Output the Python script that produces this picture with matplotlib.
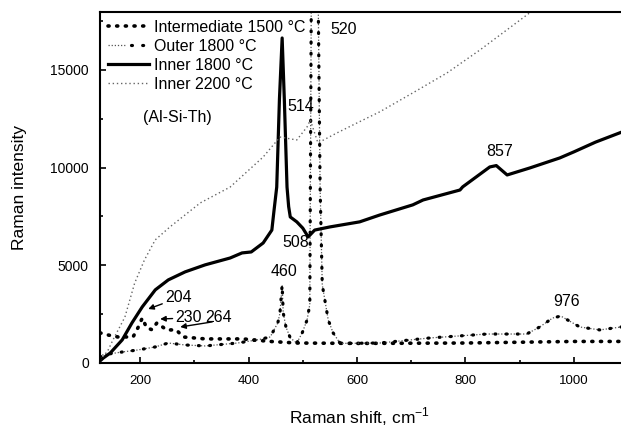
import matplotlib
matplotlib.use("Agg")
import matplotlib.pyplot as plt
from matplotlib.ticker import MultipleLocator
from matplotlib.legend_handler import HandlerTuple

plt.rcParams['font.family'] = ['Liberation Sans', 'DejaVu Sans']

# Inner 2200 C (Al-Si-Th)
x_in2200 = [126, 140, 150, 172, 190, 208, 228, 255, 311, 366, 427, 458, 489, 508, 514,
            528, 563, 600, 642, 703, 766, 827, 913, 960]
y_in2200 = [150, 600, 1180, 2350, 4090, 5270, 6300, 6960, 8190, 9000, 10540, 11560, 11410,
            12080, 12430, 11260, 11770, 12280, 12850, 13820, 14840, 16020, 17800, 18800]

# Inner 1800 C
x_in1800 = [126, 132, 145, 167, 185, 204, 228, 252, 283, 320, 366, 388, 405, 427, 443, 447,
            452, 457, 462, 466, 471, 474, 477, 489, 500, 510, 522, 550, 605, 642, 703, 722,
            790, 795, 845, 857, 877, 919, 974, 1000, 1040, 1087]
y_in1800 = [100, 250, 510, 1180, 2050, 2870, 3740, 4250, 4660, 5020, 5370, 5630, 5680, 6140,
            6800, 7800, 9000, 13500, 16630, 13500, 9000, 8000, 7470, 7220, 6900, 6450, 6800,
            6960, 7220, 7570, 8090, 8340, 8850, 9010, 10030, 10100, 9620, 9980, 10490, 10800,
            11300, 11800]

# Intermediate 1500 C
x_int1500 = [126, 141, 159, 187, 196, 204, 212, 222, 231, 249, 267, 279, 320, 390, 440, 489,
             600, 800, 1000, 1087]
y_int1500 = [1540, 1430, 1330, 1330, 1800, 2300, 1800, 1700, 2050, 1690, 1690, 1330, 1230,
             1230, 1100, 1020, 1000, 1020, 1100, 1100]

# Outer 1800 C
x_out1800 = [126, 130, 167, 196, 228, 252, 283, 320, 380, 420, 440, 454, 458, 462, 464, 469,
             477, 489, 499, 508, 513, 516, 522, 528, 532, 536, 547, 556, 569, 642, 735, 840,
             913, 937, 961, 976, 1011, 1048, 1087]
y_out1800 = [300, 410, 560, 665, 820, 1020, 920, 870, 1020, 1200, 1330, 2050, 2560, 4000,
             2560, 1840, 1280, 1020, 1540, 2200, 3000, 20000, 40000, 20000, 9000, 4000, 2200,
             1540, 1000, 1020, 1280, 1480, 1480, 1840, 2300, 2400, 1840, 1690, 1840]

peak_labels = ['520', '514', '508', '460', '857', '976']
peak_x = [576, 497, 487, 466, 864, 987]
peak_y = [17040, 13100, 6140, 4660, 10800, 3120]

fig = plt.figure(figsize=(6.21, 4.28), dpi=100)
ax = fig.add_axes([0.161, 0.152, 0.839, 0.82])

l_int, = ax.plot(x_int1500, y_int1500, color='black', lw=2.6,
                 linestyle=(0, (0.3, 2.1)), dash_capstyle='round')
l_out_thin, = ax.plot(x_out1800, y_out1800, color='#555555', lw=0.9,
                      linestyle=(0, (1, 1.5)))
l_out_dot, = ax.plot(x_out1800, y_out1800, color='black', lw=2.3,
                     linestyle=(0, (0.3, 3.2)), dash_capstyle='round')
l_in18, = ax.plot(x_in1800, y_in1800, color='black', lw=2.3)
l_in22, = ax.plot(x_in2200, y_in2200, color='#666666', lw=1.0,
                  linestyle=(0, (1, 2)))

ax.set_xlim(126, 1087)
ax.set_ylim(0, 17960)

for s in ['left', 'bottom', 'top']:
    ax.spines[s].set_linewidth(1.5)
ax.spines['right'].set_visible(False)

ax.xaxis.set_major_locator(MultipleLocator(200))
ax.xaxis.set_minor_locator(MultipleLocator(100))
ax.yaxis.set_major_locator(MultipleLocator(5000))
ax.yaxis.set_minor_locator(MultipleLocator(2500))
ax.tick_params(which='both', direction='in', top=False, right=False, width=1.2)
ax.tick_params(which='major', length=4)
ax.tick_params(which='minor', length=2.5)
ax.tick_params(axis='x', labelsize=9.5, pad=9)
ax.tick_params(axis='y', labelsize=10, pad=8)

ax.set_xlabel('Raman shift, cm$^{\\mathregular{-1}}$', fontsize=12.5)
ax.set_ylabel('Raman intensity', fontsize=12.5)
ax.xaxis.set_label_coords(0.499, -0.12)
ax.yaxis.set_label_coords(-0.14, 0.5)

leg = ax.legend([l_int, (l_out_thin, l_out_dot), l_in18, l_in22],
                ['Intermediate 1500 °C', 'Outer 1800 °C', 'Inner 1800 °C', 'Inner 2200 °C'],
                handler_map={tuple: HandlerTuple(ndivide=None)},
                loc='upper left', bbox_to_anchor=(0.0, 1.0), frameon=False,
                fontsize=11.5, handlelength=2.6, handletextpad=0.3,
                labelspacing=0.25, borderpad=0.3, borderaxespad=0.2)
ax.text(0.082, 0.70, '(Al-Si-Th)', transform=ax.transAxes, fontsize=11.5,
        ha='left', va='center')

for lab, px, py in zip(peak_labels, peak_x, peak_y):
    ax.text(px, py, lab, fontsize=11.5, ha='center', va='center')

# small peaks with arrows
ax.annotate('204', xy=(215, 2760), xytext=(246, 3330), fontsize=11.5,
            ha='left', va='center',
            arrowprops=dict(arrowstyle='-|>', color='black', lw=1, mutation_scale=8,
                            shrinkA=0, shrinkB=0))
ax.annotate('230', xy=(237, 2250), xytext=(265, 2300), fontsize=11.5,
            ha='left', va='center',
            arrowprops=dict(arrowstyle='-|>', color='black', lw=1, mutation_scale=8,
                            shrinkA=0, shrinkB=0))
ax.annotate('', xy=(274, 1840), xytext=(333, 2100),
            arrowprops=dict(arrowstyle='-|>', color='black', lw=1, mutation_scale=8,
                            shrinkA=0, shrinkB=0))
ax.text(344, 2300, '264', fontsize=11.5, ha='center', va='center')

fig.savefig('out.png', dpi=100)
